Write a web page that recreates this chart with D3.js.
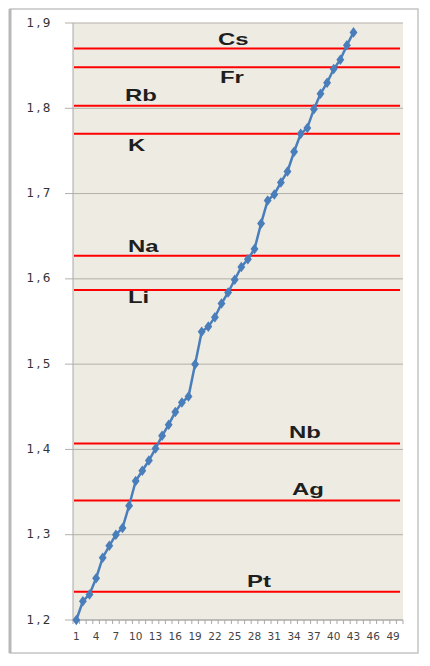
<!DOCTYPE html>
<meta charset="utf-8">
<script src="https://d3js.org/d3.v7.min.js"></script>
<style>
  body { margin: 0; background: #fff; }
</style>
<svg id="chart" width="430" height="666"></svg>
<script>

  // data
  const categories = d3.range(1, 51)
  const tickLabels = [1, 4, 7, 10, 13, 16, 19, 22, 25, 28, 31, 34, 37, 40, 43, 46, 49]
  const yTicks = [1.2, 1.3, 1.4, 1.5, 1.6, 1.7, 1.8, 1.9]
  const radii = [1.200, 1.222, 1.230, 1.249, 1.273, 1.287, 1.300, 1.308, 1.334, 1.363,
                 1.375, 1.387, 1.401, 1.416, 1.429, 1.444, 1.455, 1.462, 1.500, 1.538,
                 1.544, 1.555, 1.571, 1.584, 1.599, 1.614, 1.623, 1.635, 1.665, 1.692,
                 1.699, 1.713, 1.726, 1.749, 1.770, 1.777, 1.799, 1.817, 1.830, 1.846,
                 1.857, 1.874, 1.889]
  const elements = ["Cs", "Fr", "Rb", "K", "Na", "Li", "Nb", "Ag", "Pt"]
  const levels = [1.870, 1.848, 1.803, 1.770, 1.627, 1.587, 1.407, 1.340, 1.233]

  // where each element label sits: left edge and offset from its line
  const labelLayout = {
    Cs: [218, -4], Fr: [220, 15.5], Rb: [125, -5], K: [128, 17], Na: [128, -4],
    Li: [128, 13], Nb: [289, -5.5], Ag: [292, -6], Pt: [247, -5]
  }

  const svg = d3.select("#chart")
  const plot = { left: 73, right: 403, top: 23, bottom: 620 }

  const x = d3.scaleBand()
    .domain(categories)
    .range([plot.left, plot.right])
  const y = d3.scaleLinear()
    .domain([1.2, 1.9])
    .range([plot.bottom, plot.top])

  // outer frame
  svg.append("rect")
    .attr("x", 10).attr("y", 9)
    .attr("width", 408).attr("height", 644)
    .attr("fill", "#fff")
    .attr("stroke", "#c4c4c4")
    .attr("stroke-width", 1.5)
  svg.append("line")
    .attr("x1", 10).attr("x2", 10).attr("y1", 9).attr("y2", 653)
    .attr("stroke", "#b8b8b8").attr("stroke-width", 3)

  // plot background
  svg.append("rect")
    .attr("x", plot.left).attr("y", plot.top)
    .attr("width", plot.right - plot.left).attr("height", plot.bottom - plot.top)
    .attr("fill", "#eeebe3")

  // gridlines + y ticks
  svg.append("g")
    .selectAll("line")
    .data(yTicks)
    .join("line")
      .attr("x1", plot.left - 8)
      .attr("x2", plot.right)
      .attr("y1", d => y(d))
      .attr("y2", d => y(d))
      .attr("stroke", "#b3b0a8")
      .attr("stroke-width", 1)

  svg.append("g")
    .selectAll("text")
    .data(yTicks)
    .join("text")
      .attr("x", 53)
      .attr("y", d => y(d))
      .attr("text-anchor", "end")
      .attr("dominant-baseline", "middle")
      .attr("fill", "#333")
      .style("font-family", "DejaVu Sans")
      .style("font-size", "12px")
      .style("letter-spacing", "2.5px")
      .text(d => d3.format(".1f")(d).replace(".", ","))

  // y axis line
  svg.append("line")
    .attr("x1", plot.left).attr("x2", plot.left)
    .attr("y1", plot.top).attr("y2", plot.bottom)
    .attr("stroke", "#a8a8a8")

  // x axis with a tick at each category boundary
  svg.append("line")
    .attr("x1", plot.left).attr("x2", plot.right)
    .attr("y1", plot.bottom).attr("y2", plot.bottom)
    .attr("stroke", "#a8a8a8")
  svg.append("g")
    .selectAll("line")
    .data(categories.concat([categories.length + 1]))
    .join("line")
      .attr("x1", d => plot.left + (d - 1) * x.bandwidth())
      .attr("x2", d => plot.left + (d - 1) * x.bandwidth())
      .attr("y1", plot.bottom)
      .attr("y2", plot.bottom + 4)
      .attr("stroke", "#a8a8a8")

  svg.append("g")
    .selectAll("text")
    .data(tickLabels)
    .join("text")
      .attr("x", d => x(d) + x.bandwidth() / 2)
      .attr("y", 640)
      .attr("text-anchor", "middle")
      .attr("fill", "#444")
      .style("font-family", "DejaVu Sans")
      .style("font-size", "10.5px")
      .text(d => d)

  // red reference lines
  svg.append("g")
    .selectAll("line")
    .data(levels)
    .join("line")
      .attr("x1", plot.left + 1)
      .attr("x2", plot.right - 3)
      .attr("y1", d => y(d))
      .attr("y2", d => y(d))
      .attr("stroke", "#ff0000")
      .attr("stroke-width", 2)

  // element labels
  svg.append("g")
    .selectAll("text")
    .data(elements)
    .join("text")
      .attr("transform", (d, i) =>
        `translate(${labelLayout[d][0]},${y(levels[i]) + labelLayout[d][1]}) scale(1.45,1)`)
      .attr("fill", "#1e1e1e")
      .style("font-family", "Liberation Sans")
      .style("font-weight", "bold")
      .style("font-size", "16.5px")
      .text(d => d)

  // series line + diamond markers
  const pts = radii.map((v, i) => [x(categories[i]) + x.bandwidth() / 2, y(v)])

  svg.append("path")
    .attr("d", d3.line()(pts))
    .attr("fill", "none")
    .attr("stroke", "#4a7ebb")
    .attr("stroke-width", 2.5)

  svg.append("g")
    .selectAll("path")
    .data(pts)
    .join("path")
      .attr("transform", d => `translate(${d[0]},${d[1]}) scale(1.3,1)`)
      .attr("d", d3.symbol(d3.symbolDiamond, 32))
      .attr("fill", "#4a7ebb")

</script>
